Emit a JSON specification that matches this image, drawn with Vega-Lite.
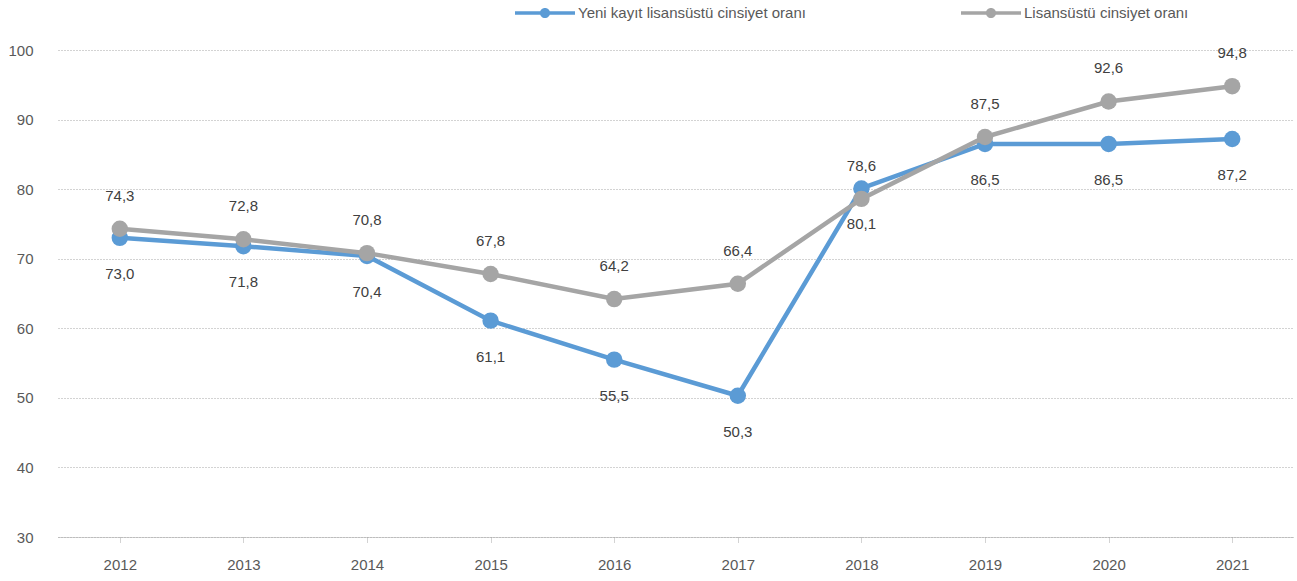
{
  "$schema": "https://vega.github.io/schema/vega-lite/v6.json",
  "width": 1236,
  "height": 487,
  "autosize": "none",
  "padding": {"left": 58, "top": 50, "right": 3, "bottom": 44},
  "background": "white",
  "config": {
    "view": {"stroke": null},
    "font": "Liberation Sans",
    "axis": {"labelFont": "Liberation Sans", "labelFontSize": 15, "labelColor": "#595959"},
    "legend": {"labelFont": "Liberation Sans", "labelFontSize": 15, "labelColor": "#595959"}
  },
  "data": {
    "values": [
      {"year": "2012", "series": "Yeni kayıt lisansüstü cinsiyet oranı", "value": 73.0, "label": "73,0"},
      {"year": "2013", "series": "Yeni kayıt lisansüstü cinsiyet oranı", "value": 71.8, "label": "71,8"},
      {"year": "2014", "series": "Yeni kayıt lisansüstü cinsiyet oranı", "value": 70.4, "label": "70,4"},
      {"year": "2015", "series": "Yeni kayıt lisansüstü cinsiyet oranı", "value": 61.1, "label": "61,1"},
      {"year": "2016", "series": "Yeni kayıt lisansüstü cinsiyet oranı", "value": 55.5, "label": "55,5"},
      {"year": "2017", "series": "Yeni kayıt lisansüstü cinsiyet oranı", "value": 50.3, "label": "50,3"},
      {"year": "2018", "series": "Yeni kayıt lisansüstü cinsiyet oranı", "value": 80.1, "label": "80,1"},
      {"year": "2019", "series": "Yeni kayıt lisansüstü cinsiyet oranı", "value": 86.5, "label": "86,5"},
      {"year": "2020", "series": "Yeni kayıt lisansüstü cinsiyet oranı", "value": 86.5, "label": "86,5"},
      {"year": "2021", "series": "Yeni kayıt lisansüstü cinsiyet oranı", "value": 87.2, "label": "87,2"},
      {"year": "2012", "series": "Lisansüstü cinsiyet oranı", "value": 74.3, "label": "74,3"},
      {"year": "2013", "series": "Lisansüstü cinsiyet oranı", "value": 72.8, "label": "72,8"},
      {"year": "2014", "series": "Lisansüstü cinsiyet oranı", "value": 70.8, "label": "70,8"},
      {"year": "2015", "series": "Lisansüstü cinsiyet oranı", "value": 67.8, "label": "67,8"},
      {"year": "2016", "series": "Lisansüstü cinsiyet oranı", "value": 64.2, "label": "64,2"},
      {"year": "2017", "series": "Lisansüstü cinsiyet oranı", "value": 66.4, "label": "66,4"},
      {"year": "2018", "series": "Lisansüstü cinsiyet oranı", "value": 78.6, "label": "78,6"},
      {"year": "2019", "series": "Lisansüstü cinsiyet oranı", "value": 87.5, "label": "87,5"},
      {"year": "2020", "series": "Lisansüstü cinsiyet oranı", "value": 92.6, "label": "92,6"},
      {"year": "2021", "series": "Lisansüstü cinsiyet oranı", "value": 94.8, "label": "94,8"}
    ]
  },
  "encoding": {
    "x": {
      "field": "year", "type": "ordinal", "title": null,
      "scale": {"paddingInner": 0, "paddingOuter": 0},
      "axis": {
        "labelAngle": 0, "bandPosition": 0, "domainColor": "#A6A6A6", "domainDash": [1, 1],
        "tickColor": "#A6A6A6", "tickDash": [1, 1], "tickSize": 5, "labelPadding": 15, "grid": false
      }
    },
    "y": {
      "field": "value", "type": "quantitative", "title": null,
      "scale": {"domain": [30, 100], "nice": false, "zero": false},
      "axis": {
        "values": [30, 40, 50, 60, 70, 80, 90, 100], "domain": false, "ticks": false, "tickSize": 0,
        "labelPadding": 25, "gridColor": "#A6A6A6", "gridDash": [1, 2], "gridWidth": 1
      }
    },
    "color": {
      "field": "series", "type": "nominal", "title": null,
      "scale": {"domain": ["Yeni kayıt lisansüstü cinsiyet oranı", "Lisansüstü cinsiyet oranı"], "range": ["#5B9BD5", "#A5A5A5"]},
      "legend": {
        "orient": "none", "direction": "horizontal", "legendX": 457, "legendY": -67,
        "symbolType": "M-1,-0.06 L1,-0.06 L1,0.06 L-1,0.06 Z M0.17,0 A0.17,0.17 0 1,1 -0.17,0 A0.17,0.17 0 1,1 0.17,0 Z",
        "symbolSize": 3600, "symbolStrokeWidth": 0, "symbolOpacity": 1,
        "labelOffset": 3, "columnPadding": 155, "labelLimit": 0
      }
    }
  },
  "layer": [
    {
      "transform": [{"filter": "datum.series == 'Yeni kayıt lisansüstü cinsiyet oranı'"}],
      "layer": [
        {"mark": {"type": "line", "strokeWidth": 4.5}},
        {"mark": {"type": "point", "filled": true, "size": 270, "opacity": 1}},
        {"mark": {"type": "text", "dy": 36, "fontSize": 15, "color": "#404040"}, "encoding": {"text": {"field": "label"}, "color": {"value": "#404040"}}}
      ]
    },
    {
      "transform": [{"filter": "datum.series == 'Lisansüstü cinsiyet oranı'"}],
      "layer": [
        {"mark": {"type": "line", "strokeWidth": 4.5}},
        {"mark": {"type": "point", "filled": true, "size": 270, "opacity": 1}},
        {"mark": {"type": "text", "dy": -33, "fontSize": 15, "color": "#404040"}, "encoding": {"text": {"field": "label"}, "color": {"value": "#404040"}}}
      ]
    }
  ]
}
